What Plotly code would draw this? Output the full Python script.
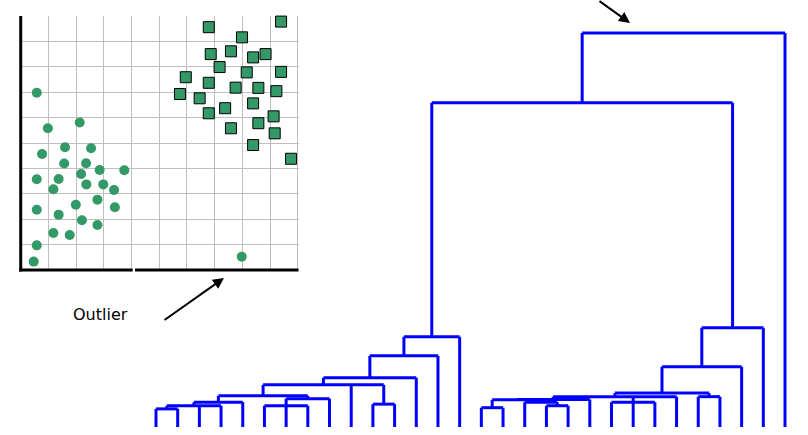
import plotly.graph_objects as go

# ---------------- scatter data (grid units 0..10) ----------------
circle_x = [0.58, 0.98, 2.13, 0.77, 1.60, 2.54, 1.57, 2.36, 2.18, 2.85, 3.74, 0.58, 1.37, 1.18,
            2.37, 2.98, 3.37, 2.77, 1.99, 3.40, 0.58, 1.37, 2.21, 2.77, 1.18, 1.77, 0.58, 0.47]
circle_y = [6.98, 5.58, 5.81, 4.57, 4.83, 4.79, 4.19, 4.20, 3.78, 3.94, 3.93, 3.57, 3.58, 3.18,
            3.37, 3.37, 3.15, 2.77, 2.57, 2.47, 2.37, 2.18, 1.96, 1.77, 1.46, 1.38, 0.97, 0.33]
outlier_x = [7.98]
outlier_y = [0.52]
square_x = [9.40, 6.79, 7.99, 6.86, 7.59, 8.39, 8.84, 7.18, 8.16, 9.40, 5.96, 6.79, 5.75,
            6.46, 7.76, 8.58, 9.23, 7.38, 8.39, 6.79, 9.13, 7.59, 8.58, 9.17, 8.39, 9.76]
square_y = [9.78, 9.56, 9.16, 8.50, 8.61, 8.37, 8.50, 7.99, 7.78, 7.80, 7.59, 7.37, 6.93,
            6.76, 7.18, 7.17, 7.04, 6.37, 6.56, 6.17, 6.05, 5.58, 5.78, 5.38, 4.92, 4.38]
grid_x_ticks = [1, 2, 3, 4, 5, 6, 7, 8, 9, 10]
grid_y_ticks = [1, 2, 3, 4, 5, 6, 7, 8, 9]

# ---------------- dendrogram data ----------------
leaf_count = 30
merges = [  # (name, children, merge height)
    ("A", [0, 1], 0.46),
    ("N1", ["A", 2, 3], 0.54),
    ("N2", ["N1", 4], 0.63),
    ("N5", [5, 6, 7], 0.54),
    ("N4", ["N5", 8], 0.72),
    ("N3", ["N2", "N4"], 0.79),
    ("N6", [10, 11], 0.58),
    ("N7", ["N3", 9, "N6"], 1.07),
    ("N8", ["N7", 12], 1.25),
    ("N9", ["N8", 13], 1.81),
    ("N10", ["N9", 14], 2.29),
    ("RA", [15, 16], 0.49),
    ("RB", [18, 19], 0.54),
    ("RC", [17, "RB"], 0.63),
    ("RD", ["RA", "RC"], 0.69),
    ("RE", [21, 22, 23], 0.63),
    ("RG", ["RD", 20], 0.70),
    ("RH", ["RG", "RE", 24], 0.77),
    ("RF", [25, 26], 0.77),
    ("Q", ["RH", "RF"], 0.86),
    ("P", ["Q", 27], 1.53),
    ("R", ["P", 28], 2.52),
    ("M", ["N10", "R"], 8.23),
    ("ROOT", ["M", 29], 10.0),
]

GREEN = "#339966"
BLUE = "#0000FF"

# build dendrogram segments
anchor = {i: (float(i), 0.0) for i in range(leaf_count)}
dx, dy = [], []
for name, children, h in merges:
    xs = []
    for c in children:
        cx, ch = anchor[c]
        dx += [cx, cx, None]
        dy += [ch, h, None]
        xs.append(cx)
    dx += [min(xs), max(xs), None]
    dy += [h, h, None]
    anchor[name] = ((min(xs) + max(xs)) / 2.0, h)

fig = go.Figure()

fig.add_trace(go.Scatter(x=dx, y=dy, mode="lines", xaxis="x2", yaxis="y2",
                         line=dict(color=BLUE, width=3), hoverinfo="skip", showlegend=False))

fig.add_trace(go.Scatter(x=circle_x + outlier_x, y=circle_y + outlier_y, mode="markers",
                         marker=dict(symbol="circle", size=10, color=GREEN, line=dict(width=0)),
                         cliponaxis=False, showlegend=False))
fig.add_trace(go.Scatter(x=square_x, y=square_y, mode="markers",
                         marker=dict(symbol="square", size=11, color=GREEN,
                                     line=dict(width=1, color="black")),
                         cliponaxis=False, showlegend=False))

W, H = 808, 435
def px(x):
    return x / W
def py(y):
    return (H - y) / H

x_left, x_right, y_bottom, y_top = 20.7, 299.0, 270.0, 16.0
cell_w = 27.7

fig.update_layout(
    width=W, height=H,
    margin=dict(l=0, r=0, t=0, b=0),
    paper_bgcolor="white",
    plot_bgcolor="rgba(0,0,0,0)",
    xaxis=dict(domain=[px(x_left), px(x_right)], range=[0, (x_right - x_left) / cell_w],
               tickvals=grid_x_ticks, showticklabels=False, ticks="",
               showgrid=True, gridcolor="#bfbfbf", gridwidth=1, zeroline=False, showline=False,
               fixedrange=True),
    yaxis=dict(domain=[py(y_bottom), py(y_top)], range=[0, 10],
               tickvals=grid_y_ticks, showticklabels=False, ticks="",
               showgrid=True, gridcolor="#bfbfbf", gridwidth=1, zeroline=False, showline=False,
               fixedrange=True),
    xaxis2=dict(domain=[0, 1], range=[-156 / 21.69, (W - 156) / 21.69], visible=False,
                anchor="y2", fixedrange=True),
    yaxis2=dict(domain=[0, 1], range=[-8 / 39.4, 427 / 39.4], visible=False,
                anchor="x2", fixedrange=True),
    shapes=[
        dict(type="line", xref="paper", yref="paper", x0=px(20.7), x1=px(20.7),
             y0=py(271.5), y1=py(16), line=dict(color="black", width=3), layer="above"),
        dict(type="line", xref="paper", yref="paper", x0=px(19.2), x1=px(132.7),
             y0=py(270), y1=py(270), line=dict(color="black", width=3), layer="above"),
        dict(type="line", xref="paper", yref="paper", x0=px(135.0), x1=px(298.5),
             y0=py(270), y1=py(270), line=dict(color="black", width=3), layer="above"),
    ],
    annotations=[
        dict(text="Outlier", xref="paper", yref="paper", x=px(100.5), y=py(314),
             xanchor="center", yanchor="middle",
             showarrow=False, font=dict(family="DejaVu Sans", size=16, color="black")),
        dict(text="", xref="paper", yref="paper", x=px(224), y=py(278),
             showarrow=True, arrowhead=2, arrowsize=1.1, arrowwidth=2, arrowcolor="black",
             ax=-61, ay=43),
        dict(text="", xref="paper", yref="paper", x=px(630), y=py(23),
             showarrow=True, arrowhead=2, arrowsize=1.1, arrowwidth=2, arrowcolor="black",
             ax=-32, ay=-26),
    ],
)

fig.write_html("out.html")
